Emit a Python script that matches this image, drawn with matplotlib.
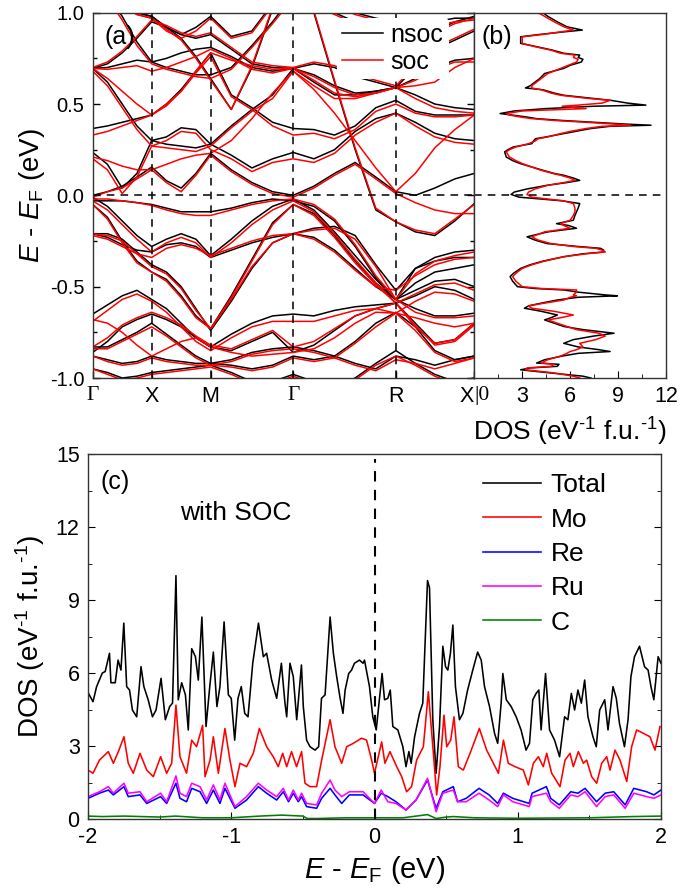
import numpy as np
import matplotlib
matplotlib.use('Agg')
import matplotlib.pyplot as plt
from matplotlib.ticker import MultipleLocator

plt.rcParams['font.family'] = ['Liberation Sans', 'DejaVu Sans']
plt.rcParams['mathtext.fontset'] = 'custom'
plt.rcParams['mathtext.rm'] = 'Liberation Sans'
plt.rcParams['mathtext.it'] = 'Liberation Sans:italic'
plt.rcParams['mathtext.bf'] = 'Liberation Sans:bold'

# ---------------- panel (a): band structure ----------------
kpath = [0, 0.25, 0.5, 0.75, 1.0, 1.25, 1.5, 1.75, 2.0, 2.35, 2.7, 3.05, 3.4,
         3.75, 4.1, 4.45, 4.8, 5.14, 5.47, 5.8, 6.14, 6.47]
k_ticks = [0, 1.0, 2.0, 3.4, 5.14, 6.47]
k_labels = ['Γ', 'X', 'M', 'Γ', 'R', 'X']

nsoc_01 = [-0.95,-0.97,-1.00,-0.99,-0.97,-0.96,-0.95,-0.94,-0.93,-0.97,-1.02,-1.02,-0.98,-1.02,-1.05,-1.00,-0.92,-0.85,-0.92,-0.98,-1.02,-1.00]
nsoc_02 = [-0.88,-0.90,-0.92,-0.91,-0.88,-0.90,-0.91,-0.92,-0.92,-0.93,-0.95,-0.93,-0.88,-0.90,-0.88,-0.80,-0.70,-0.64,-0.72,-0.85,-0.90,-0.88]
nsoc_03 = [-0.86,-0.80,-0.72,-0.68,-0.65,-0.68,-0.72,-0.78,-0.83,-0.85,-0.80,-0.75,-0.86,-0.82,-0.74,-0.66,-0.62,-0.59,-0.70,-0.81,-0.79,-0.70]
nsoc_04 = [-0.65,-0.60,-0.55,-0.52,-0.57,-0.62,-0.70,-0.78,-0.83,-0.76,-0.70,-0.66,-0.65,-0.66,-0.63,-0.61,-0.60,-0.59,-0.55,-0.50,-0.52,-0.57]
nsoc_05 = [-0.21,-0.21,-0.24,-0.31,-0.38,-0.42,-0.50,-0.62,-0.74,-0.58,-0.40,-0.26,-0.21,-0.23,-0.30,-0.40,-0.50,-0.57,-0.48,-0.42,-0.40,-0.38]
nsoc_06 = [-0.21,-0.23,-0.27,-0.30,-0.31,-0.27,-0.26,-0.28,-0.34,-0.30,-0.26,-0.23,-0.21,-0.18,-0.17,-0.22,-0.38,-0.52,-0.40,-0.34,-0.31,-0.30]
nsoc_07 = [-0.01,-0.06,-0.14,-0.22,-0.28,-0.24,-0.21,-0.24,-0.33,-0.24,-0.14,-0.06,-0.02,-0.08,-0.20,-0.33,-0.46,-0.57,-0.52,-0.47,-0.46,-0.50]
nsoc_08 = [-0.03,-0.03,-0.03,-0.04,-0.05,-0.07,-0.09,-0.09,-0.09,-0.07,-0.04,-0.02,-0.03,-0.06,-0.14,-0.28,-0.45,-0.57,-0.62,-0.66,-0.66,-0.645]
nsoc_09 = [-0.05,-0.12,-0.25,-0.36,-0.42,-0.46,-0.55,-0.66,-0.73,-0.55,-0.35,-0.15,-0.05,-0.10,-0.22,-0.36,-0.48,-0.57,-0.40,-0.36,-0.34,-0.34]
nsoc_10 = [1.25, 1.15, 1.05, 1.00, 0.98, 0.92, 0.86, 0.76, 0.64, 0.47, 0.70, 1.02, 1.25, 1.00, 0.62, 0.25,-0.08,-0.145,-0.20,-0.22,-0.14,-0.045]
nsoc_11 = [0.00, 0.02, 0.05, 0.10, 0.155, 0.08, 0.04, 0.12, 0.23, 0.14, 0.07, 0.02, 0.00, 0.05, 0.12, 0.18, 0.10, 0.02, 0.00, 0.04, 0.09, 0.12]
nsoc_12 = [0.235, 0.17, 0.04, 0.12, 0.30, 0.32, 0.37, 0.36, 0.28, 0.22, 0.15, 0.20, 0.235, 0.20, 0.25, 0.35, 0.42, 0.45, 0.40, 0.34, 0.31, 0.30]
nsoc_13 = [0.366, 0.38, 0.40, 0.42, 0.44, 0.50, 0.58, 0.68, 0.78, 0.55, 0.48, 0.40, 0.366, 0.36, 0.33, 0.38, 0.48, 0.52, 0.46, 0.44, 0.44, 0.44]
nsoc_14 = [0.695, 0.62, 0.50, 0.38, 0.30, 0.28, 0.27, 0.26, 0.28, 0.38, 0.47, 0.55, 0.695, 0.62, 0.55, 0.55, 0.57, 0.59, 0.55, 0.50, 0.48, 0.47]
nsoc_15 = [0.695, 0.70, 0.72, 0.74, 0.73, 0.75, 0.78, 0.80, 0.81, 0.76, 0.70, 0.68, 0.695, 0.66, 0.60, 0.56, 0.57, 0.59, 0.64, 0.70, 0.74, 0.75]
nsoc_16 = [0.695, 0.72, 0.78, 0.86, 0.95, 0.92, 0.88, 0.86, 0.88, 0.80, 0.72, 0.70, 0.695, 0.72, 0.70, 0.65, 0.62, 0.59, 0.70, 0.80, 0.85, 0.90]
nsoc_17 = [1.20, 1.10, 0.98, 0.84, 0.73, 0.70, 0.68, 0.66, 0.66, 0.70, 0.82, 0.95, 1.10, 1.05, 1.00, 0.95, 0.90, 0.95, 0.92, 0.90, 0.95, 0.98]
nsoc_18 = [-0.83,-0.83,-0.79,-0.75,-0.70,-0.76,-0.82,-0.88,-0.92,-0.90,-0.86,-0.84,-0.83,-0.85,-0.88,-0.92,-0.95,-0.88,-0.90,-0.93,-0.90,-0.88]
nsoc_19 = [1.15, 1.10, 1.05, 1.00, 0.98, 0.92, 0.88, 0.92, 0.98, 0.87, 0.90, 1.05, 1.15, 1.10, 1.05, 1.00, 0.97, 0.95, 0.93, 0.95, 0.97, 0.97]

soc_01 = [-0.95,-0.98,-1.01,-1.00,-0.98,-0.97,-0.96,-0.95,-0.94,-0.98,-1.03,-1.03,-0.99,-1.03,-1.06,-1.01,-0.93,-0.88,-0.93,-0.99,-1.03,-1.01]
soc_02 = [-0.88,-0.91,-0.93,-0.92,-0.89,-0.91,-0.92,-0.93,-0.93,-0.94,-0.96,-0.94,-0.89,-0.91,-0.89,-0.81,-0.72,-0.645,-0.74,-0.86,-0.91,-0.89]
soc_03 = [-0.83,-0.78,-0.71,-0.67,-0.64,-0.67,-0.71,-0.77,-0.82,-0.84,-0.79,-0.74,-0.83,-0.80,-0.73,-0.66,-0.62,-0.59,-0.71,-0.82,-0.80,-0.71]
soc_04 = [-0.69,-0.63,-0.57,-0.54,-0.58,-0.64,-0.72,-0.80,-0.85,-0.78,-0.72,-0.69,-0.69,-0.69,-0.66,-0.63,-0.62,-0.645,-0.58,-0.53,-0.54,-0.58]
soc_05 = [-0.21,-0.22,-0.25,-0.32,-0.39,-0.43,-0.51,-0.63,-0.73,-0.57,-0.39,-0.26,-0.21,-0.24,-0.31,-0.41,-0.50,-0.52,-0.44,-0.38,-0.35,-0.34]
soc_06 = [-0.22,-0.24,-0.28,-0.32,-0.34,-0.29,-0.27,-0.29,-0.33,-0.29,-0.25,-0.22,-0.21,-0.19,-0.18,-0.24,-0.39,-0.57,-0.43,-0.36,-0.33,-0.31]
soc_07 = [-0.03,-0.08,-0.16,-0.24,-0.31,-0.26,-0.23,-0.26,-0.34,-0.26,-0.16,-0.08,-0.03,-0.09,-0.21,-0.35,-0.48,-0.59,-0.54,-0.49,-0.48,-0.52]
soc_08 = [-0.02,-0.02,-0.03,-0.04,-0.055,-0.08,-0.10,-0.11,-0.11,-0.08,-0.05,-0.03,-0.02,-0.05,-0.13,-0.27,-0.44,-0.57,-0.64,-0.67,-0.67,-0.66]
soc_09 = [-0.05,-0.13,-0.26,-0.37,-0.42,-0.47,-0.56,-0.67,-0.73,-0.56,-0.36,-0.16,-0.05,-0.11,-0.23,-0.37,-0.49,-0.59,-0.72,-0.81,-0.79,-0.70]
soc_10 = [1.25, 1.14, 1.04, 0.99, 0.97, 0.91, 0.85, 0.75, 0.63, 0.47, 0.71, 1.03, 1.25, 1.01, 0.63, 0.26,-0.07,-0.145,-0.19,-0.21,-0.13,-0.05]
soc_11 = [-0.01, 0.02, 0.04, 0.09, 0.14, 0.07, 0.02, 0.11, 0.22, 0.13, 0.06, 0.01,-0.01, 0.04, 0.11, 0.17, 0.09, 0.01,-0.04,-0.08,-0.10,-0.10]
soc_12 = [0.20, 0.14, 0.01, 0.10, 0.27, 0.30, 0.35, 0.34, 0.25, 0.20, 0.13, 0.18, 0.20, 0.18, 0.23, 0.33, 0.40, 0.45, 0.38, 0.32, 0.29, 0.28]
soc_13 = [0.33, 0.35, 0.38, 0.41, 0.44, 0.49, 0.57, 0.67, 0.76, 0.54, 0.47, 0.38, 0.33, 0.34, 0.31, 0.36, 0.46, 0.50, 0.45, 0.43, 0.43, 0.44]
soc_14 = [0.68, 0.60, 0.48, 0.36, 0.27, 0.26, 0.25, 0.24, 0.27, 0.37, 0.46, 0.53, 0.68, 0.60, 0.53, 0.53, 0.56, 0.59, 0.53, 0.48, 0.46, 0.45]
soc_15 = [0.695, 0.69, 0.70, 0.71, 0.68, 0.70, 0.73, 0.76, 0.80, 0.75, 0.69, 0.67, 0.695, 0.65, 0.59, 0.55, 0.56, 0.59, 0.63, 0.69, 0.73, 0.73]
soc_16 = [0.70, 0.73, 0.79, 0.87, 0.96, 0.93, 0.89, 0.87, 0.89, 0.81, 0.73, 0.71, 0.70, 0.73, 0.71, 0.66, 0.63, 0.60, 0.71, 0.81, 0.86, 0.91]
soc_17 = [1.18, 1.08, 0.96, 0.82, 0.72, 0.69, 0.67, 0.65, 0.64, 0.69, 0.81, 0.94, 1.08, 1.04, 0.99, 0.94, 0.89, 0.94, 0.91, 0.89, 0.94, 0.97]
soc_18 = [0.21, 0.19, 0.16, 0.14, 0.14, 0.17, 0.20, 0.22, 0.23, 0.30, 0.42, 0.56, 0.68, 0.58, 0.45, 0.30, 0.15, 0.02, 0.12, 0.26, 0.36, 0.44]
soc_19 = [-0.68,-0.70,-0.75,-0.82,-0.88,-0.84,-0.80,-0.78,-0.83,-0.86,-0.88,-0.87,-0.86,-0.84,-0.78,-0.70,-0.64,-0.645,-0.67,-0.70,-0.72,-0.70]
soc_20 = [0.695, 0.64, 0.57, 0.50, 0.44, 0.50, 0.57, 0.68, 0.78, 0.74, 0.71, 0.69, 0.695, 0.63, 0.56, 0.54, 0.56, 0.59, 0.60, 0.62, 0.70, 0.75]
soc_21 = [-0.84,-0.84,-0.80,-0.76,-0.72,-0.77,-0.83,-0.89,-0.93,-0.91,-0.87,-0.85,-0.84,-0.86,-0.89,-0.93,-0.96,-0.90,-0.92,-0.95,-0.92,-0.89]
soc_22 = [1.14, 1.09, 1.04, 0.99, 0.97, 0.90, 0.86, 0.90, 0.97, 0.86, 0.89, 1.04, 1.14, 1.09, 1.04, 0.99, 0.96, 0.94, 0.91, 0.93, 0.95, 0.96]

nsoc_bands = [nsoc_01, nsoc_02, nsoc_03, nsoc_04, nsoc_05, nsoc_06, nsoc_07, nsoc_08, nsoc_09,
              nsoc_10, nsoc_11, nsoc_12, nsoc_13, nsoc_14, nsoc_15, nsoc_16, nsoc_17, nsoc_18,
              nsoc_19]
soc_bands = [soc_01, soc_02, soc_03, soc_04, soc_05, soc_06, soc_07, soc_08, soc_09, soc_10,
             soc_11, soc_12, soc_13, soc_14, soc_15, soc_16, soc_17, soc_18, soc_19, soc_20,
             soc_21, soc_22]

# ---------------- panel (b): DOS nsoc / soc ----------------
e_b = [-1.00,-0.99,-0.97,-0.955,-0.945,-0.936,-0.925,-0.918,-0.90,-0.88,-0.865,-0.855,-0.845,-0.83,-0.81,
       -0.79,-0.77,-0.755,-0.735,-0.718,-0.70,-0.682,-0.67,-0.655,-0.635,-0.618,-0.605,-0.59,-0.573,-0.558,
       -0.55,-0.545,-0.53,-0.518,-0.51,-0.50,-0.47,-0.445,-0.427,-0.40,-0.38,-0.36,-0.336,-0.32,-0.31,
       -0.30,-0.29,-0.28,-0.264,-0.245,-0.227,-0.20,-0.18,-0.165,-0.155,-0.136,-0.11,-0.09,-0.07,-0.045,
       -0.03,-0.018,-0.01,0.005,0.018,0.035,0.055,0.07,0.082,0.095,0.11,0.12,0.137,0.155,0.174,
       0.19,0.21,0.238,0.25,0.265,0.283,0.297,0.31,0.32,0.338,0.35,0.366,0.378,0.384,0.39,
       0.40,0.41,0.42,0.43,0.44,0.448,0.462,0.475,0.488,0.494,0.505,0.52,0.53,0.548,0.56,
       0.578,0.588,0.60,0.62,0.64,0.667,0.695,0.712,0.73,0.745,0.755,0.768,0.778,0.795,0.814,
       0.832,0.868,0.88,0.895,0.905,0.923,0.95,0.98,1.00]
dos_nsoc = [7.3,6.8,4.5,2.9,3.5,5.2,5.3,3.9,4.4,5.5,6.5,8.5,7.8,6.5,5.6,
            6.2,7.5,8.75,6.8,5.6,5.0,4.4,4.8,5.2,4.2,3.14,3.4,4.2,5.2,6.5,
            8.96,8.2,6.5,5.6,3.8,2.7,2.4,2.24,2.45,2.9,3.5,4.3,5.6,6.8,8.1,
            8.1,7.9,6.5,4.55,3.8,3.3,4.6,6.4,5.9,5.15,6.2,6.3,6.4,6.5,6.6,
            5.5,3.9,2.8,2.3,2.5,3.3,4.55,5.8,6.6,6.2,5.6,5.0,4.3,3.6,2.88,
            2.4,2.0,1.9,2.1,2.45,3.6,3.7,3.83,4.5,5.6,6.3,7.3,8.5,11.06,9.5,
            7.5,5.5,3.9,3.2,2.3,1.62,2.5,4.5,7.5,10.74,9.6,8.56,7.5,5.6,5.0,
            4.3,3.2,3.5,3.8,4.1,4.4,5.6,6.0,6.7,6.8,6.5,6.6,5.6,4.9,3.9,
            2.9,2.9,4.0,5.6,6.76,5.8,5.2,4.6,4.3]
dos_soc = [6.6,6.2,4.8,3.2,3.3,4.8,5.0,4.2,4.6,5.4,5.8,6.0,6.4,6.8,6.6,
           7.6,8.2,7.8,6.4,5.8,5.2,4.6,5.4,6.2,5.0,3.6,3.4,4.4,5.6,6.0,
           6.4,6.2,6.4,6.4,4.2,3.0,2.6,2.4,2.6,3.0,3.6,4.4,5.6,7.0,8.2,
           8.0,7.6,6.2,4.8,4.0,3.6,4.4,6.0,5.6,5.4,6.0,6.2,6.3,6.3,6.2,
           5.6,4.4,3.6,3.3,3.4,3.8,4.6,5.6,6.3,6.0,5.4,4.9,4.2,3.6,3.0,
           2.6,2.2,2.0,2.2,2.6,3.4,3.8,4.0,4.6,5.4,6.0,7.0,8.0,9.8,8.8,
           7.0,5.0,3.6,2.8,2.2,2.0,3.0,7.0,5.5,6.5,8.0,8.5,7.2,5.4,4.8,
           4.2,3.6,3.6,3.9,4.2,4.6,5.4,5.9,6.4,6.5,6.2,6.3,5.4,4.8,3.8,
           3.0,3.0,4.2,5.4,6.2,5.6,5.0,4.4,4.0]

# ---------------- panel (c): projected DOS with SOC ----------------
e_tot = [-2.0,-1.965,-1.94,-1.9,-1.88,-1.85,-1.84,-1.81,-1.79,-1.77,-1.75,-1.73,-1.71,-1.69,-1.66,
         -1.63,-1.61,-1.58,-1.55,-1.525,-1.49,-1.46,-1.43,-1.41,-1.386,-1.37,-1.346,-1.32,-1.30,-1.276,
         -1.25,-1.23,-1.205,-1.176,-1.15,-1.125,-1.10,-1.079,-1.05,-1.02,-1.0,-0.976,-0.953,-0.93,-0.906,
         -0.883,-0.85,-0.81,-0.776,-0.753,-0.718,-0.683,-0.65,-0.625,-0.613,-0.59,-0.567,-0.543,-0.51,-0.497,
         -0.474,-0.45,-0.415,-0.39,-0.37,-0.345,-0.31,-0.287,-0.264,-0.24,-0.22,-0.205,-0.18,-0.16,-0.14,
         -0.105,-0.08,-0.07,-0.035,-0.012,0.012,0.035,0.053,0.07,0.093,0.11,0.128,0.163,0.198,0.22,
         0.24,0.256,0.28,0.314,0.337,0.37,0.384,0.407,0.43,0.454,0.477,0.496,0.512,0.53,0.547,
         0.565,0.593,0.617,0.65,0.686,0.72,0.745,0.768,0.803,0.838,0.86,0.884,0.896,0.92,0.954,
         0.989,1.023,1.058,1.082,1.105,1.128,1.147,1.163,1.194,1.222,1.257,1.292,1.327,1.35,1.374,
         1.397,1.42,1.444,1.467,1.49,1.525,1.548,1.572,1.607,1.63,1.665,1.688,1.71,1.745,1.77,
         1.79,1.815,1.85,1.885,1.91,1.93,1.95,1.98,2.0]
dos_total = [5.2,4.82,5.44,6.0,6.06,6.81,5.6,5.6,6.53,6.12,8.05,5.44,5.3,4.48,4.2,
             6.26,5.44,4.9,4.2,4.48,5.78,4.08,4.62,4.76,10.0,4.9,5.6,5.1,3.66,7.0,
             6.67,5.71,8.3,3.8,5.44,6.86,4.62,5.44,8.1,5.1,4.96,3.24,4.96,5.44,4.34,
             4.2,6.4,8.05,6.67,6.81,5.71,4.96,6.4,4.76,4.2,6.4,5.85,4.08,6.33,4.62,
             3.24,2.97,2.83,2.97,4.96,5.1,8.3,6.81,5.85,4.96,4.34,5.3,5.98,6.12,6.4,
             6.53,6.4,6.53,5.44,4.2,3.66,4.96,5.98,4.9,4.96,5.3,3.8,3.66,2.97,2.15,
             2.77,2.29,3.38,4.34,4.76,9.8,9.5,4.08,1.88,3.8,7.1,6.26,6.12,6.81,7.97,
             5.44,4.08,4.34,5.3,6.12,6.86,6.53,5.44,4.62,3.52,3.11,4.76,5.98,4.9,4.62,
             4.2,3.66,2.83,3.11,4.9,5.16,5.3,3.66,5.98,3.66,3.24,2.56,4.2,4.08,5.16,
             4.48,5.3,4.76,5.71,4.2,3.38,2.97,4.48,4.9,3.66,5.44,4.96,3.93,2.97,4.08,
             5.85,6.67,7.1,6.26,6.12,5.44,4.9,6.67,6.4]

e_mo = [-2.0,-1.965,-1.92,-1.858,-1.823,-1.788,-1.749,-1.719,-1.684,-1.637,-1.59,-1.544,-1.493,-1.451,-1.416,
        -1.386,-1.358,-1.312,-1.276,-1.242,-1.2,-1.183,-1.148,-1.125,-1.09,-1.044,-1.009,-0.974,-0.939,-0.893,
        -0.846,-0.804,-0.753,-0.707,-0.672,-0.641,-0.613,-0.579,-0.544,-0.509,-0.485,-0.45,-0.404,-0.369,-0.31,
        -0.276,-0.229,-0.194,-0.148,-0.09,-0.055,-0.02,0.0,0.05,0.073,0.108,0.155,0.19,0.224,0.259,
        0.294,0.341,0.376,0.411,0.434,0.457,0.485,0.504,0.532,0.555,0.585,0.62,0.667,0.732,0.783,
        0.83,0.865,0.9,0.934,0.981,1.039,1.074,1.109,1.144,1.178,1.202,1.237,1.295,1.33,1.365,
        1.388,1.423,1.458,1.481,1.516,1.551,1.586,1.621,1.644,1.679,1.714,1.761,1.795,1.83,1.877,
        1.923,1.958,1.993]
dos_mo = [2.01,1.88,2.42,2.77,2.29,2.77,3.38,2.29,1.88,2.70,2.01,1.74,2.56,1.88,2.29,
          4.68,2.56,1.88,3.24,2.97,3.85,1.74,2.42,3.38,1.88,3.72,2.42,1.33,2.29,2.15,
          2.70,3.72,2.97,2.56,2.15,2.70,2.15,2.77,2.15,2.77,1.47,1.33,1.33,2.42,4.08,
          2.97,2.29,2.97,3.11,3.32,3.24,2.42,1.88,3.17,2.29,2.77,2.15,1.74,1.12,1.33,
          2.42,2.97,5.23,2.70,0.99,2.15,4.27,2.97,3.24,4.2,2.15,2.01,2.70,3.72,2.83,
          2.29,1.88,3.24,2.29,2.15,2.01,1.40,2.29,2.56,2.15,2.70,1.88,1.33,2.42,2.70,
          2.15,2.77,2.29,2.42,1.74,1.47,2.29,2.56,2.01,2.83,2.42,1.54,2.97,3.66,3.52,
          3.38,2.83,3.80]

e_pd = [-2.0,-1.92,-1.858,-1.823,-1.749,-1.719,-1.637,-1.59,-1.493,-1.451,-1.386,-1.358,-1.312,-1.276,-1.218,
        -1.172,-1.125,-1.079,-1.044,-0.974,-0.893,-0.811,-0.753,-0.683,-0.637,-0.6,-0.567,-0.532,-0.509,-0.474,
        -0.404,-0.369,-0.31,-0.276,-0.229,-0.175,-0.08,0.0,0.047,0.093,0.15,0.22,0.29,0.37,0.43,
        0.477,0.55,0.58,0.64,0.73,0.8,0.86,0.9,0.965,1.08,1.1,1.2,1.23,1.29,1.37,
        1.42,1.47,1.55,1.61,1.67,1.75,1.81,1.9,1.95,2.0]
dos_re = [0.85,1.06,1.19,0.99,1.33,0.92,0.99,0.64,0.92,0.64,1.47,0.85,0.71,1.26,1.12,
          0.64,1.19,0.64,1.26,0.44,0.78,1.33,1.06,0.78,1.12,0.71,1.06,0.71,0.92,0.51,
          0.44,0.85,1.26,0.99,0.64,0.99,0.99,0.64,1.06,0.92,0.71,0.37,0.78,1.6,0.44,
          1.12,1.33,0.71,0.85,1.26,0.99,0.64,1.06,0.85,0.64,1.06,1.33,0.85,0.58,1.12,
          1.06,1.26,0.71,1.06,1.12,0.58,1.26,1.12,0.99,1.19]
dos_ru = [0.92,1.12,1.33,1.06,1.47,1.06,1.12,0.71,1.06,0.71,1.77,1.06,0.92,1.47,1.33,
          0.78,1.40,0.78,1.47,0.51,0.92,1.47,1.19,0.92,1.26,0.78,1.19,0.78,1.06,0.64,
          0.58,1.06,1.6,1.19,0.92,1.12,1.12,0.64,1.19,0.71,0.64,0.37,0.78,1.67,0.30,
          1.06,1.19,0.71,0.71,1.06,0.78,0.51,0.99,0.71,0.51,0.92,1.06,0.71,0.44,0.99,
          0.92,1.12,0.51,0.92,0.99,0.44,1.06,0.92,0.85,0.99]

e_c = [-2.0,-1.9,-1.75,-1.5,-1.39,-1.2,-1.0,-0.8,-0.65,-0.5,-0.47,-0.4,-0.2,0.0,0.2,
       0.37,0.43,0.5,0.55,0.7,1.0,1.5,1.8,2.0]
dos_c = [0.12,0.10,0.12,0.08,0.12,0.05,0.05,0.12,0.16,0.12,0.02,0.02,0.05,0.05,0.05,
         0.18,0.02,0.08,0.10,0.05,0.03,0.05,0.10,0.12]

pdos_labels = ['Total', 'Mo', 'Re', 'Ru', 'C']
pdos_colors = ['#000000', '#ff0000', '#0000ff', '#ff00ff', '#008000']

# ---------------- figure ----------------
W, H = 679, 890
fig = plt.figure(figsize=(W / 100, H / 100), dpi=100)

def px_axes(x0, y0, x1, y1):
    return fig.add_axes([x0 / W, 1 - y1 / H, (x1 - x0) / W, (y1 - y0) / H])

ax_a = px_axes(92.7, 12.7, 474.3, 378.0)
ax_b = px_axes(474.3, 12.7, 666.0, 378.0)
ax_c = px_axes(88.0, 454.0, 661.0, 819.0)

TICK_FS = 14.5
LAB_FS = 20
DOS_LABEL = 'DOS (eV$^{\\text{-1}}$ f.u.$^{\\text{-1}}$)'

for ax in (ax_a, ax_b, ax_c):
    for s in ax.spines.values():
        s.set_linewidth(1.0)
        s.set_color('#333333')

# (a)
for i, b in enumerate(nsoc_bands):
    ax_a.plot(kpath, b, color='black', lw=1.1, label='nsoc' if i == 0 else None)
for i, b in enumerate(soc_bands):
    ax_a.plot(kpath, b, color='red', lw=1.1, label='soc' if i == 0 else None)
for kt in k_ticks[1:-1]:
    ax_a.axvline(kt, color='black', lw=1.1, ls=(0, (5, 4)))
ax_a.axhline(0, color='black', lw=1.1, ls=(0, (5, 4)))
ax_a.set_xlim(k_ticks[0], k_ticks[-1])
ax_a.set_ylim(-1.0, 1.0)
ax_a.set_yticks([-1.0, -0.5, 0.0, 0.5, 1.0])
ax_a.set_yticklabels(['-1.0', '-0.5', '0.0', '0.5', '1.0'], fontsize=TICK_FS)
ax_a.yaxis.set_minor_locator(MultipleLocator(0.25))
ax_a.set_xticks(k_ticks)
ax_a.set_xticklabels(k_labels, fontsize=TICK_FS + 1)
for lab in ax_a.get_xticklabels():
    if lab.get_text() == 'Γ':
        lab.set_family(['Liberation Serif', 'DejaVu Serif'])
xl = ax_a.get_xticklabels()
xl[-1].set_horizontalalignment('right')
ax_a.tick_params(axis='both', which='both', direction='in', right=True, top=False)
ax_a.tick_params(axis='both', which='major', length=5, width=1.0, pad=6)
ax_a.tick_params(axis='y', which='minor', length=3, width=1.0)
ax_a.set_ylabel('$E$ - $E_{\\mathrm{F}}$ (eV)', fontsize=LAB_FS, labelpad=2)
ax_a.text(0.03, 0.965, '(a)', transform=ax_a.transAxes, fontsize=18, va='top', ha='left')
ax_a.legend(loc='upper left', bbox_to_anchor=(0.64, 0.985), fontsize=18,
            frameon=True, facecolor='white', edgecolor='none', framealpha=1.0,
            handlelength=1.65, handletextpad=0.3, labelspacing=0.1,
            borderpad=0.2, borderaxespad=0.0)

# (b)
ax_b.plot(dos_nsoc, e_b, color='black', lw=1.1)
ax_b.plot(dos_soc, e_b, color='red', lw=1.1)
ax_b.axhline(0, color='black', lw=1.1, ls=(0, (5, 4)))
ax_b.set_xlim(0, 12)
ax_b.set_ylim(-1.0, 1.0)
ax_b.set_yticks([])
ax_b.set_xticks([0, 3, 6, 9, 12])
ax_b.set_xticklabels(['|0', '3', '6', '9', '12'], fontsize=TICK_FS + 1)
ax_b.xaxis.set_minor_locator(MultipleLocator(1.5))
bl = ax_b.get_xticklabels()
bl[0].set_horizontalalignment('left')
bl[0].set_family(['Liberation Serif', 'DejaVu Serif'])
ax_b.tick_params(axis='x', which='both', direction='in')
ax_b.tick_params(axis='x', which='major', length=5, pad=6)
ax_b.tick_params(axis='x', which='minor', length=3)
ax_b.set_xlabel(DOS_LABEL, fontsize=LAB_FS - 1, labelpad=6)
ax_b.text(0.04, 0.965, '(b)', transform=ax_b.transAxes, fontsize=18, va='top', ha='left')

# (c)
ax_c.plot(e_tot, dos_total, color=pdos_colors[0], lw=1.15, label=pdos_labels[0])
ax_c.plot(e_mo, dos_mo, color=pdos_colors[1], lw=1.15, label=pdos_labels[1])
ax_c.plot(e_pd, dos_re, color=pdos_colors[2], lw=1.15, label=pdos_labels[2])
ax_c.plot(e_pd, dos_ru, color=pdos_colors[3], lw=1.15, label=pdos_labels[3])
ax_c.plot(e_c, dos_c, color=pdos_colors[4], lw=1.15, label=pdos_labels[4])
ax_c.plot([0, 0], [0, 14.8], color='black', lw=1.5, ls=(0, (5, 4)))
ax_c.set_xlim(-2, 2)
ax_c.set_ylim(0, 15)
ax_c.set_xticks([-2, -1, 0, 1, 2])
ax_c.set_xticklabels(['-2', '-1', '0', '1', '2'], fontsize=TICK_FS + 1)
ax_c.set_yticks([0, 3, 6, 9, 12, 15])
ax_c.set_yticklabels(['0', '3', '6', '9', '12', '15'], fontsize=TICK_FS + 1)
ax_c.xaxis.set_minor_locator(MultipleLocator(0.5))
ax_c.yaxis.set_minor_locator(MultipleLocator(1.5))
ax_c.tick_params(axis='both', which='both', direction='in', right=True, top=False)
ax_c.tick_params(axis='both', which='major', length=5, pad=6)
ax_c.tick_params(axis='both', which='minor', length=3)
ax_c.set_xlabel('$E$ - $E_{\\mathrm{F}}$ (eV)', fontsize=LAB_FS + 1, labelpad=4)
ax_c.set_ylabel(DOS_LABEL, fontsize=LAB_FS, labelpad=6)
ax_c.text(0.022, 0.955, '(c)', transform=ax_c.transAxes, fontsize=18, va='top', ha='left')
ax_c.text(0.16, 0.87, 'with SOC', transform=ax_c.transAxes, fontsize=19, va='top', ha='left')
ax_c.legend(loc='upper left', bbox_to_anchor=(0.69, 0.947), fontsize=19, frameon=False,
            handlelength=2.2, handletextpad=0.35, labelspacing=0.39, borderpad=0.0,
            borderaxespad=0.0)

fig.savefig('out.png', dpi=100)
